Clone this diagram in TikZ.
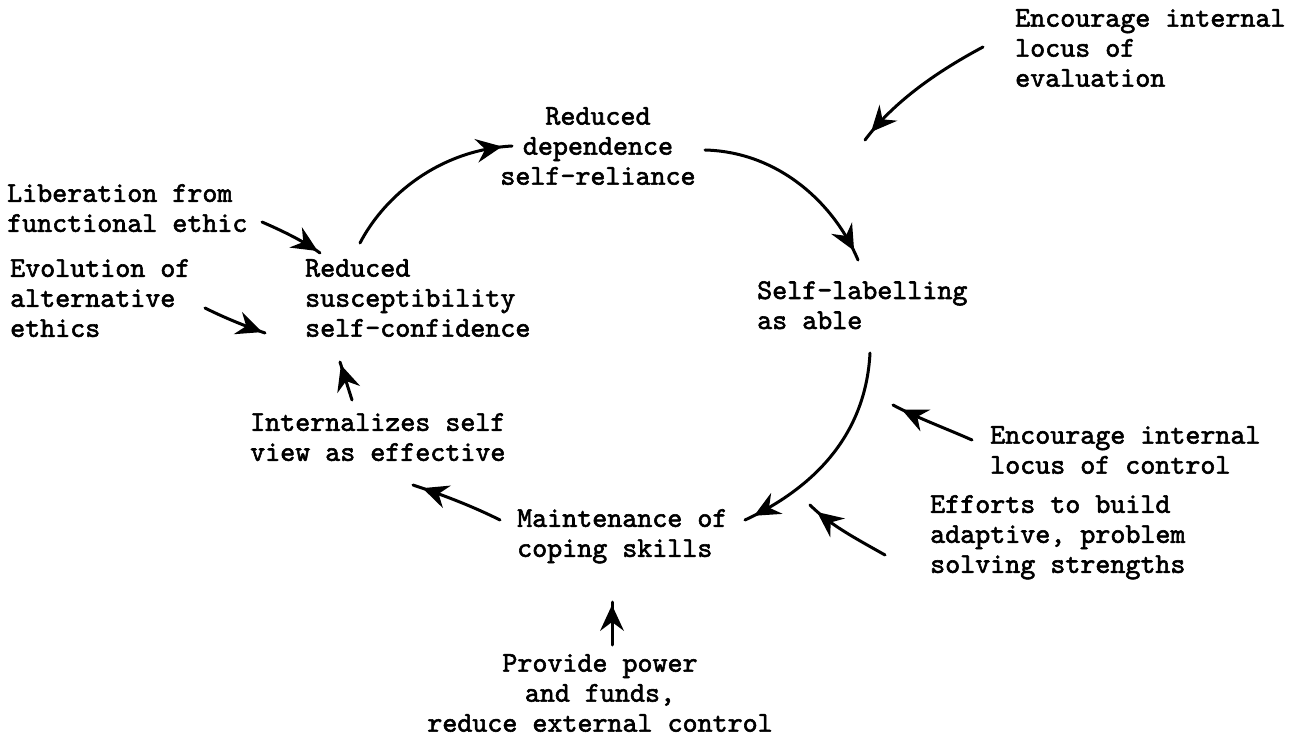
\documentclass[tikz,border=0pt]{standalone}
\usepackage{fontspec}
\usetikzlibrary{decorations.markings}
\newfontfamily\twfam[FakeBold=2]{lmmono10-regular.otf}
\newcommand{\twfont}{\twfam\fontsize{28.6}{30}\selectfont}
\newcommand{\barbhead}{\fill (10pt,0pt) -- (-16pt,12pt) -- (-7pt,0pt) -- (-16pt,-12pt) -- cycle;}
\begin{document}
\begin{tikzpicture}[x=1pt,y=1pt,
  lbl/.style={font=\twfont, inner sep=0pt, align=left, anchor=north west},
  clbl/.style={lbl, align=center, anchor=north},
  flowline/.style={line width=3pt, line cap=round, postaction={decorate}},
  flow/.style={flowline, decoration={markings, mark=at position -20pt with {\barbhead}}},
  sflow/.style={flowline, decoration={markings, mark=at position -13pt with {\barbhead}}}]
\useasboundingbox (0,0) rectangle (1306,740);
% text nodes
\node[lbl] (eval) at (1015,731) {Encourage internal\\locus of\\evaluation};
\node[clbl] (dep) at (598,633) {Reduced\\dependence\\self-reliance};
\node[lbl] (lib) at (7,556) {Liberation from\\functional ethic};
\node[lbl] (evo) at (10,481) {Evolution of\\alternative\\ethics};
\node[lbl] (susc) at (305,481) {Reduced\\susceptibility\\self-confidence};
\node[lbl] (selflab) at (757,459) {Self-labelling\\as able};
\node[lbl] (intern) at (250,327) {Internalizes self\\view as effective};
\node[lbl] (maint) at (517,231) {Maintenance of\\coping skills};
\node[lbl] (ctrl) at (990,314) {Encourage internal\\locus of control};
\node[lbl] (eff) at (930,245) {Efforts to build\\adaptive, problem\\solving strengths};
\node[clbl] (prov) at (600,86) {Provide power\\and funds,\\reduce external control};
% connector end points
\coordinate (a0) at (360,497);  \coordinate (a1) at (512,594);
\coordinate (b0) at (705,590);  \coordinate (b1) at (858,480);
\coordinate (c0) at (870,387);  \coordinate (c1) at (745,220);
\coordinate (d0) at (500,220);  \coordinate (d1) at (413,255);
\coordinate (e0) at (352,340);  \coordinate (e1) at (340,378);
\coordinate (f0) at (612,95);   \coordinate (f1) at (612,138);
\coordinate (g0) at (885,185);  \coordinate (g1) at (810,235);
\coordinate (h0) at (972,300);  \coordinate (h1) at (893,335);
\coordinate (i0) at (983,693);  \coordinate (i1) at (865,600);
\coordinate (j0) at (262,518);  \coordinate (j1) at (320,487);
\coordinate (k0) at (205,432);  \coordinate (k1) at (265,407);
% cycle
\draw[flow] (a0) .. controls (385,545) and (440,590) .. (a1);
\draw[flow] (b0) .. controls (780,588) and (835,535) .. (b1);
\draw[flow] (c0) .. controls (866,310) and (820,255) .. (c1);
\draw[flow] (d0) .. controls (470,235) and (440,246) .. (d1);
\draw[sflow] (e0) -- (e1);
% influences
\draw[sflow] (f0) -- (f1);
\draw[flow] (g0) .. controls (855,202) and (830,215) .. (g1);
\draw[flow] (h0) .. controls (945,312) and (915,323) .. (h1);
\draw[flow] (i0) .. controls (940,670) and (895,640) .. (i1);
\draw[sflow] (j0) .. controls (285,508) and (305,498) .. (j1);
\draw[sflow] (k0) .. controls (225,422) and (245,414) .. (k1);
\end{tikzpicture}
\end{document}
